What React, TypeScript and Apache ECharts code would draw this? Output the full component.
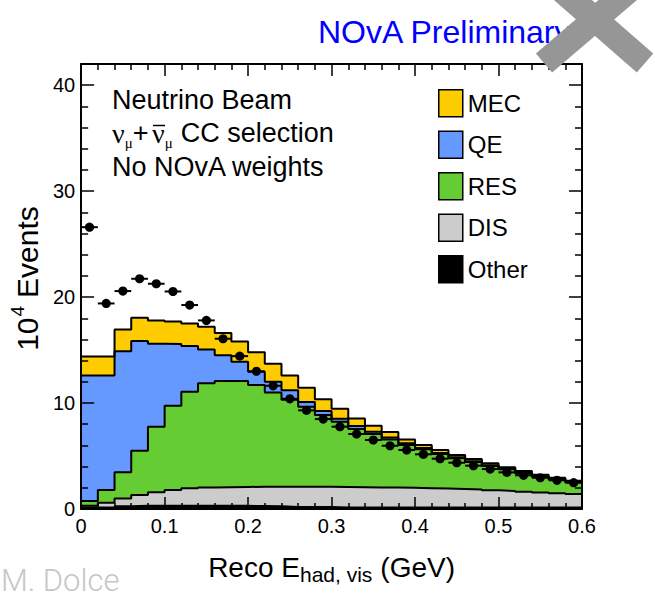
import React, { useEffect, useRef } from 'react';
import * as echarts from 'echarts';

// Bin edges of the histogram (GeV)
const binEdges = [0, 0.02, 0.04, 0.06, 0.08, 0.1, 0.12, 0.14, 0.16, 0.18, 0.2, 0.22, 0.24, 0.26, 0.28, 0.3,
  0.32, 0.34, 0.36, 0.38, 0.4, 0.42, 0.44, 0.46, 0.48, 0.5, 0.52, 0.54, 0.56, 0.58, 0.6];
const binCenters = [0.01, 0.03, 0.05, 0.07, 0.09, 0.11, 0.13, 0.15, 0.17, 0.19, 0.21, 0.23, 0.25, 0.27, 0.29,
  0.31, 0.33, 0.35, 0.37, 0.39, 0.41, 0.43, 0.45, 0.47, 0.49, 0.51, 0.53, 0.55, 0.57, 0.59];

// Per-component MC predictions (10^4 events per bin)
const otherValues = [0.15, 0.15, 0.25, 0.3, 0.3, 0.3, 0.3, 0.3, 0.3, 0.3, 0.28, 0.25, 0.2, 0.2, 0.2,
  0.15, 0.15, 0.15, 0.15, 0.15, 0.15, 0.15, 0.15, 0.15, 0.15, 0.15, 0.15, 0.15, 0.15, 0.15];
const disValues = [0.15, 0.45, 0.75, 1.02, 1.27, 1.49, 1.65, 1.74, 1.76, 1.78, 1.82, 1.85, 1.9, 1.9, 1.9,
  1.93, 1.91, 1.89, 1.87, 1.85, 1.82, 1.78, 1.73, 1.68, 1.61, 1.55, 1.48, 1.41, 1.34, 1.27];
const resValues = [0.45, 1.2, 2.46, 4.18, 6.2, 7.96, 9.12, 9.82, 10.01, 9.99, 9.6, 8.9, 8.2, 7.55, 6.77,
  6.16, 5.49, 5.04, 4.55, 4.04, 3.66, 3.26, 2.92, 2.6, 2.3, 2.04, 1.73, 1.49, 1.31, 1.1];
const qeValues = [11.85, 10.8, 11.44, 10.35, 7.83, 5.82, 4.31, 3.2, 2.43, 1.83, 1.25, 1.0, 0.9, 0.45, 0.38,
  0.28, 0.28, 0.22, 0.19, 0.16, 0.12, 0.09, 0.08, 0.07, 0.06, 0.05, 0.05, 0.04, 0.03, 0.03];
const mecValues = [1.8, 1.8, 2.05, 2.2, 2.2, 2.13, 2.12, 2.14, 2.1, 1.9, 1.85, 1.7, 1.4, 1.35, 1.1,
  0.95, 0.72, 0.56, 0.5, 0.37, 0.29, 0.29, 0.21, 0.22, 0.19, 0.14, 0.17, 0.15, 0.12, 0.12];

// Data points (10^4 events)
const dataValues = [26.6, 19.4, 20.57, 21.73, 21.26, 20.53, 19.25, 17.8, 16.07, 14.43, 13.0, 11.63, 10.4, 9.31, 8.49,
  7.77, 7.08, 6.51, 5.97, 5.57, 5.16, 4.75, 4.37, 4.09, 3.77, 3.46, 3.18, 2.95, 2.71, 2.48];

const legendNames = ['MEC', 'QE', 'RES', 'DIS', 'Other'];

const FONT = '"Liberation Sans", Arial, Helvetica, sans-serif';
const SERIF = '"Liberation Serif", "DejaVu Serif", serif';

const layers = [
  { name: 'Other', values: otherValues, color: '#000000' },
  { name: 'DIS', values: disValues, color: '#CCCCCC' },
  { name: 'RES', values: resValues, color: '#66CC33' },
  { name: 'QE', values: qeValues, color: '#6699FF' },
  { name: 'MEC', values: mecValues, color: '#FFCC00' },
];

function buildOption() {
  // cumulative stack tops
  const running = binCenters.map(() => 0);
  const cumulative = layers.map((l) => {
    const tops = l.values.map((v, i) => (running[i] += v));
    return { ...l, tops: tops.slice() };
  });
  const stepData = (tops: number[]) =>
    binEdges.map((e, i) => [e, tops[Math.min(i, tops.length - 1)]]);

  // draw from the top layer down so lower layers paint over upper fills
  const fillSeries = cumulative.slice().reverse().map((l) => ({
    type: 'line',
    name: l.name,
    data: stepData(l.tops),
    step: 'end',
    symbol: 'none',
    showSymbol: false,
    silent: true,
    lineStyle: { color: '#000', width: 2 },
    areaStyle: { color: l.color, opacity: 1 },
    z: 2,
  }));

  const colorOf: Record<string, string> = {};
  layers.forEach((l) => (colorOf[l.name] = l.color));

  const axisCommon = {
    axisLine: { show: true, onZero: false, lineStyle: { color: '#000', width: 2 } },
    splitLine: { show: false },
    z: 10,
  };

  const xTick = {
    axisTick: { show: true, inside: true, length: 12, lineStyle: { color: '#000', width: 1.5 } },
    minorTick: { show: true, splitNumber: 5, length: 6, lineStyle: { color: '#000', width: 1.5 } },
  };
  const yTick = {
    axisTick: { show: true, inside: true, length: 13, lineStyle: { color: '#000', width: 1.5 } },
    minorTick: { show: true, splitNumber: 5, length: 7, lineStyle: { color: '#000', width: 1.5 } },
  };

  return {
    animation: false,
    backgroundColor: '#ffffff',
    grid: { left: 79, right: 73, top: 64, bottom: 88, containLabel: false },
    xAxis: [
      {
        type: 'value', min: 0, max: 0.6, interval: 0.1, position: 'bottom',
        ...axisCommon, ...xTick,
        axisLabel: { fontSize: 20, fontFamily: FONT, color: '#000', margin: 7 },
        name: '{n|Reco E}{sub|had, vis}{n|(GeV)}',
        nameLocation: 'middle',
        nameGap: 40,
        nameTextStyle: {
          color: '#000', fontFamily: FONT, fontSize: 28,
          rich: {
            n: { fontSize: 28, fontFamily: FONT, color: '#000', lineHeight: 36 },
            sub: { fontSize: 21, fontFamily: FONT, color: '#000', lineHeight: 18, verticalAlign: 'bottom', padding: [0, 8, 0, 0] },
          },
        },
      },
      {
        type: 'value', min: 0, max: 0.6, interval: 0.1, position: 'top',
        ...axisCommon, ...xTick,
        axisLabel: { show: false },
      },
    ],
    yAxis: [
      {
        type: 'value', min: 0, max: 42, interval: 10, position: 'left',
        ...axisCommon, ...yTick,
        axisLabel: { fontSize: 20, fontFamily: FONT, color: '#000', margin: 6, showMaxLabel: false },
        name: '{n|10}{sup|4}{n|Events}',
        nameLocation: 'middle',
        nameRotate: 90,
        nameGap: 31,
        nameTextStyle: {
          color: '#000', fontFamily: FONT, fontSize: 30,
          padding: [0, 0, 0, 16],
          rich: {
            n: { fontSize: 30, fontFamily: FONT, color: '#000', lineHeight: 38 },
            sup: { fontSize: 19, fontFamily: FONT, color: '#000', lineHeight: 19, verticalAlign: 'top', padding: [0, 8, 0, 1] },
          },
        },
      },
      {
        type: 'value', min: 0, max: 42, interval: 10, position: 'right',
        ...axisCommon, ...yTick,
        axisLabel: { show: false },
      },
    ],
    legend: {
      orient: 'vertical', left: 438, top: 89, padding: 0,
      itemWidth: 24, itemHeight: 27, itemGap: 13,
      selectedMode: false,
      textStyle: { fontSize: 24, fontFamily: FONT, color: '#000', lineHeight: 27 },
      data: legendNames.map((name) => ({
        name,
        icon: 'rect',
        itemStyle: { color: colorOf[name], borderColor: '#000', borderWidth: 1.5, opacity: 1 },
      })),
    },
    series: [
      ...fillSeries,
      {
        type: 'custom',
        name: 'Data',
        silent: true,
        z: 5,
        data: binCenters.map((x, i) => [x, dataValues[i]]),
        renderItem: (params: any, api: any) => {
          const x = api.value(0);
          const y = api.value(1);
          const p = api.coord([x, y]);
          const l = api.coord([x - 0.01, y]);
          const r = api.coord([x + 0.01, y]);
          return {
            type: 'group',
            children: [
              { type: 'line', shape: { x1: l[0], y1: l[1], x2: r[0], y2: r[1] }, style: { stroke: '#000', lineWidth: 2 } },
              { type: 'circle', shape: { cx: p[0], cy: p[1], r: 4.6 }, style: { fill: '#000' } },
            ],
          };
        },
      },
    ],
    graphic: [
      {
        type: 'text', x: 318, y: 32, z: 50,
        style: { text: 'NOvA Preliminary', fill: '#0000FF', fontSize: 32, fontFamily: FONT, align: 'left', verticalAlign: 'middle' },
      },
      {
        type: 'line', z: 60,
        shape: { x1: 544, y1: 63, x2: 640, y2: -19 },
        style: { stroke: '#969696', lineWidth: 25, lineCap: 'butt' },
      },
      {
        type: 'line', z: 60,
        shape: { x1: 645, y1: 63, x2: 550, y2: -20 },
        style: { stroke: '#969696', lineWidth: 25, lineCap: 'butt' },
      },
      {
        type: 'text', x: 112, y: 100, z: 50,
        style: { text: 'Neutrino Beam', fill: '#000', fontSize: 27, fontFamily: FONT, align: 'left', verticalAlign: 'middle' },
      },
      {
        type: 'text', x: 112, y: 133, z: 50,
        style: {
          text: '{g|ν}{s|μ}{n|+}',
          align: 'left', verticalAlign: 'middle',
          rich: {
            n: { fontSize: 27, fontFamily: FONT, fill: '#000', lineHeight: 34 },
            g: { fontSize: 28, fontFamily: SERIF, fill: '#000', lineHeight: 34 },
            s: { fontSize: 15, fontFamily: SERIF, fill: '#000', lineHeight: 15, verticalAlign: 'bottom' },
          },
        },
      },
      {
        type: 'text', x: 152, y: 133, z: 50,
        style: {
          text: '{g|ν}{s|μ}{n|CC selection}',
          align: 'left', verticalAlign: 'middle',
          rich: {
            n: { fontSize: 27, fontFamily: FONT, fill: '#000', lineHeight: 34 },
            g: { fontSize: 28, fontFamily: SERIF, fill: '#000', lineHeight: 34 },
            s: { fontSize: 15, fontFamily: SERIF, fill: '#000', lineHeight: 15, verticalAlign: 'bottom', padding: [0, 8, 0, 0] },
          },
        },
      },
      {
        type: 'line', z: 50,
        shape: { x1: 153, y1: 125.5, x2: 165, y2: 125.5 },
        style: { stroke: '#000', lineWidth: 1.5 },
      },
      {
        type: 'text', x: 112, y: 167, z: 50,
        style: { text: 'No NOvA weights', fill: '#000', fontSize: 27, fontFamily: FONT, align: 'left', verticalAlign: 'middle' },
      },
      {
        type: 'text', x: 1, y: 580, z: 50,
        style: { text: 'M. Dolce', fill: '#C6C6C6', fontSize: 31, fontFamily: 'Roboto, "Open Sans", sans-serif', fontWeight: 300, align: 'left', verticalAlign: 'middle' },
      },
    ],
  };
}

export default function App() {
  const ref = useRef<HTMLDivElement>(null);
  useEffect(() => {
    if (!ref.current) return;
    const chart = echarts.init(ref.current, undefined, { renderer: 'svg' });
    chart.setOption(buildOption() as any);
    return () => chart.dispose();
  }, []);
  return (
    <div
      ref={ref}
      style={{ position: 'absolute', left: 0, top: 0, width: 655, height: 597, background: '#fff' }}
    />
  );
}
